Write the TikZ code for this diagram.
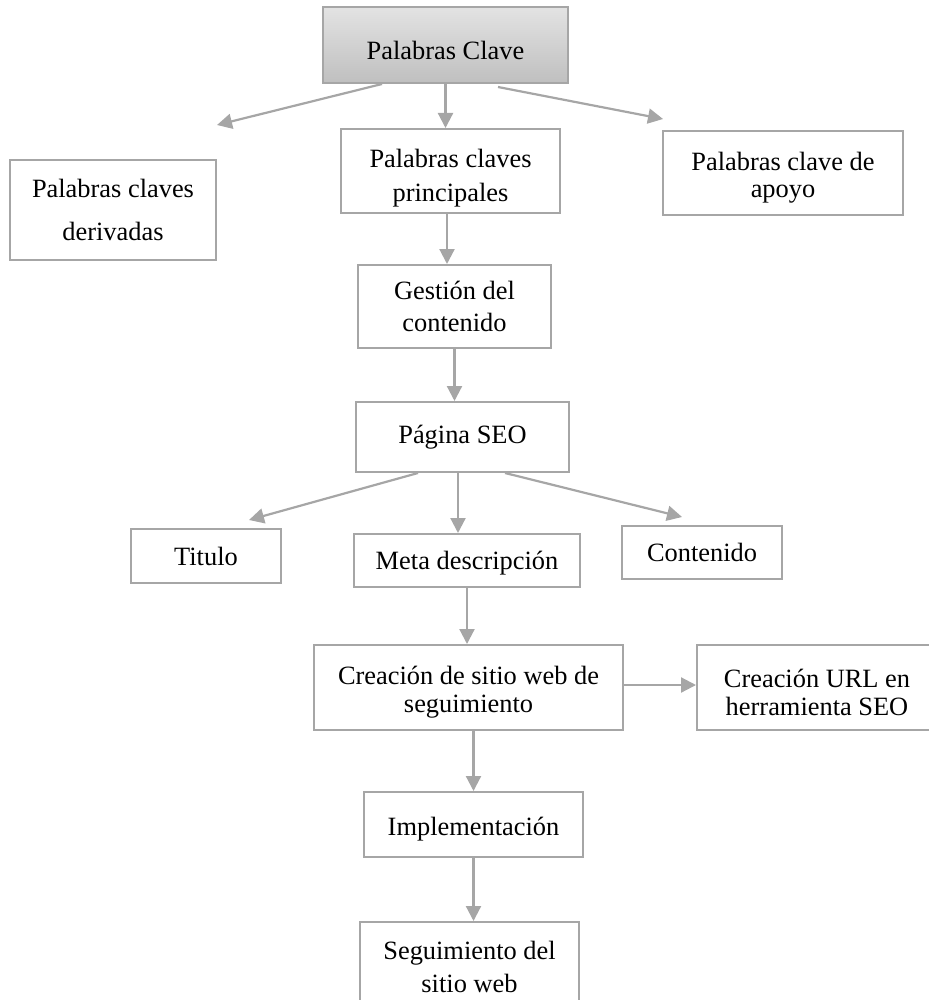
\documentclass[tikz,border=0pt]{standalone}
\usepackage{fontspec}
\setmainfont{Liberation Serif}
\usetikzlibrary{arrows.meta}
\definecolor{lineagris}{HTML}{A6A6A6}
\newcommand{\alto}[1]{\rule{0pt}{#1}}

\begin{document}
\begin{tikzpicture}[x={(0.5pt,0)}, y={(0,-0.5pt)},
    caja/.style={draw=lineagris, line width=1pt, fill=white, align=center,
      inner sep=0pt, font=\fontsize{13.2}{#1}\selectfont},
    caja/.default=14pt,
    flecha/.style={draw=lineagris, line width=1.1pt,
      -{Triangle[length=7.5pt,width=7.5pt]}}]
  \useasboundingbox (0,0) rectangle (929,1000);

  % keywords
  \node[caja, top color=gray!22, bottom color=gray!50,
    minimum width=122.5pt, minimum height=38pt] (clave) at (445.5,45)
    {\alto{15pt}Palabras Clave};
  \node[caja=21.5pt, minimum width=103pt, minimum height=50pt]
    (derivadas) at (113,210) {Palabras claves\\derivadas};
  \node[caja=17pt, minimum width=109.5pt, minimum height=42pt]
    (principales) at (450.5,171) {\alto{16pt}Palabras claves\\principales};
  \node[caja=13.5pt, minimum width=120pt, minimum height=42pt]
    (apoyo) at (783,173) {\alto{13.5pt}Palabras clave de\\apoyo};

  % content and page
  \node[caja=16pt, minimum width=96.5pt, minimum height=41.5pt]
    (gestion) at (454.5,306.5) {Gestión del\\contenido};
  \node[caja, minimum width=106.5pt, minimum height=35pt]
    (pagina) at (462.5,437) {Página SEO};
  \node[caja, minimum width=75pt, minimum height=27pt]
    (titulo) at (206,556) {Titulo};
  \node[caja, minimum width=113pt, minimum height=26.5pt]
    (meta) at (467,560.5) {\alto{11.5pt}Meta descripción};
  \node[caja, minimum width=80pt, minimum height=26.5pt]
    (contenido) at (702,552.5) {Contenido};

  % site and follow-up
  \node[caja, minimum width=154.5pt, minimum height=42.5pt]
    (creacion) at (468.5,687.5) {\alto{14pt}Creación de sitio web de\\seguimiento};
  \node[caja, minimum width=120pt, minimum height=42.5pt]
    (url) at (817,687.5) {\alto{14pt}Creación URL en\\herramienta SEO};
  \node[caja, minimum width=109.5pt, minimum height=32.5pt]
    (impl) at (473.5,824.5) {\alto{13.5pt}Implementación};
  \node[caja=16.5pt, minimum width=109.5pt, minimum height=43pt]
    (seguim) at (469.5,965) {\alto{11pt}Seguimiento del\\sitio web};

  % free arrow ends
  \coordinate (tipDer) at (217,125);
  \coordinate (tipApo) at (663,119);
  \coordinate (tipTit) at (249,520);
  \coordinate (tipCon) at (682,517);

  % arrows
  \draw[flecha] ([xshift=-31.75pt]clave.south) -- (tipDer);
  \draw[flecha] (clave.south) -- (clave.south |- principales.north);
  \draw[flecha] ([xshift=26.25pt,yshift=-1.5pt]clave.south) -- (tipApo);
  \draw[flecha] ([xshift=-1.75pt]principales.south)
    -- ([xshift=-1.75pt]principales.south |- gestion.north);
  \draw[flecha] (gestion.south) -- (gestion.south |- pagina.north);
  \draw[flecha] ([xshift=-22.25pt]pagina.south) -- (tipTit);
  \draw[flecha] ([xshift=-2.25pt]pagina.south)
    -- ([xshift=-2.25pt]pagina.south |- meta.north);
  \draw[flecha] ([xshift=21.25pt]pagina.south) -- (tipCon);
  \draw[flecha] (meta.south) -- (meta.south |- creacion.north);
  \draw[flecha] (creacion.east |- 0,685) -- (url.west |- 0,685);
  \draw[flecha] (impl.north |- creacion.south) -- (impl.north);
  \draw[flecha] (impl.south) -- (impl.south |- seguim.north);
\end{tikzpicture}
\end{document}
